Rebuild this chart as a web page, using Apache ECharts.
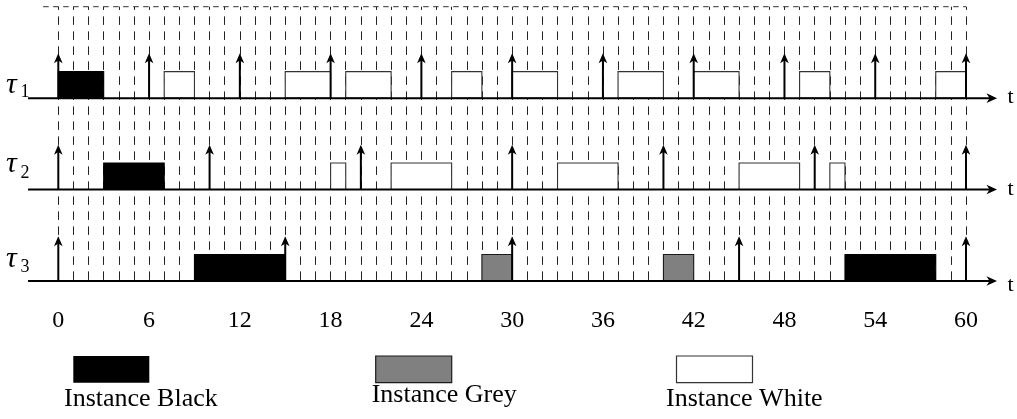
<!DOCTYPE html>
<html><head><meta charset="utf-8">
<script src="https://cdn.jsdelivr.net/npm/echarts@6/dist/echarts.min.js"></script>
<style>html,body{margin:0;padding:0;background:#fff}#c{width:1017px;height:419px}</style>
</head><body><div id="c"></div>
<script>
// ---- data ----
const timeTicks = [0, 6, 12, 18, 24, 30, 36, 42, 48, 54, 60];
const rowNames = ['τ', 'τ', 'τ'];
const rowSubs = ['1', '2', '3'];
const rowLevels = [2, 1, 0];
const tau1Releases = [0, 6, 12, 18, 24, 30, 36, 42, 48, 54, 60];
const tau2Releases = [0, 10, 20, 30, 40, 50, 60];
const tau3Releases = [0, 15, 30, 45, 60];
const tau1Black = [[0, 3]];
const tau1White = [[7, 9], [15, 18], [19, 22], [26, 28], [30, 33], [37, 40], [42, 45], [49, 51], [58, 60]];
const tau2Black = [[3, 7]];
const tau2White = [[18, 19], [22, 26], [33, 37], [45, 49], [51, 52]];
const tau3Black = [[9, 15], [52, 58]];
const tau3Grey = [[28, 30], [40, 42]];
const legendNames = ['Instance Black', 'Instance Grey', 'Instance White'];

// ---- layout / style ----
const SERIF = 'Liberation Serif';
const BOX_H = 0.29, ARROW_H = 0.49, AXIS_START = -2, AXIS_END = 62.05, TOP_LINE = 3;
const FILLS = ['#000000', '#808080', '#ffffff'];
const STROKES = ['#000000', '#1a1a1a', '#333333'];
const tauBaseOff = [-2.5, -15.5, -11.5];   // px: tau glyph baseline relative to axis
const subBaseOff = [0, -10, -8];
const tOff = [-1, 0, 4];

const boxData = [];
function addBoxes(list, level, kind) { list.forEach(b => boxData.push([b[0], b[1], level, kind])); }
addBoxes(tau1Black, rowLevels[0], 0); addBoxes(tau1White, rowLevels[0], 2);
addBoxes(tau2Black, rowLevels[1], 0); addBoxes(tau2White, rowLevels[1], 2);
addBoxes(tau3Black, rowLevels[2], 0); addBoxes(tau3Grey, rowLevels[2], 1);

const arrowData = [];
[tau1Releases, tau2Releases, tau3Releases].forEach((r, i) => r.forEach(t => arrowData.push([t, rowLevels[i]])));
const axisData = rowLevels.map((lv, i) => [lv, i]);

const chart = echarts.init(document.getElementById('c'), null, {renderer: 'canvas'});
chart.setOption({
  animation: false,
  backgroundColor: '#ffffff',
  grid: {left: 58.3, right: 51, top: 6.7, bottom: 138},
  xAxis: [
    {type: 'value', min: 0, max: 60, interval: 6, axisLine: {show: false}, axisTick: {show: false},
     splitLine: {show: false},
     axisLabel: {margin: 28, fontFamily: SERIF, fontSize: 24, color: '#000',
       formatter: v => timeTicks.indexOf(v) >= 0 ? String(v) : ''}},
    {type: 'value', min: 0, max: 60, interval: 1, position: 'top', axisLine: {show: false},
     axisTick: {show: false}, axisLabel: {show: false},
     splitLine: {show: true, lineStyle: {color: '#222', width: 1, type: [8.5, 6.5], dashOffset: 5.3}}}
  ],
  yAxis: {type: 'value', min: 0, max: 3, show: false, splitLine: {show: false}},
  series: [
    { // top dashed line
      type: 'custom', xAxisIndex: 0, data: [[-1, 60, TOP_LINE]], clip: false, z: 2,
      renderItem: (p, api) => {
        const a = api.coord([api.value(0), api.value(2)]), b = api.coord([api.value(1), api.value(2)]);
        return {type: 'line', shape: {x1: a[0], y1: a[1], x2: b[0], y2: b[1]},
                style: {stroke: '#333', lineWidth: 1, lineDash: [5.5, 4.5]}};
      }
    },
    { // boxes
      type: 'custom', xAxisIndex: 0, data: boxData, clip: false, z: 3,
      renderItem: (p, api) => {
        const k = api.value(3);
        const p0 = api.coord([api.value(0), api.value(2) + BOX_H]);
        const p1 = api.coord([api.value(1), api.value(2)]);
        return {type: 'rect', shape: {x: p0[0], y: p0[1], width: p1[0] - p0[0], height: p1[1] - p0[1]},
                style: {fill: FILLS[k], stroke: STROKES[k], lineWidth: 1.1}};
      }
    },
    { // baseline axes with arrow, labels
      type: 'custom', xAxisIndex: 0, data: axisData, clip: false, z: 4,
      renderItem: (p, api) => {
        const lv = api.value(0), i = api.value(1);
        const a = api.coord([AXIS_START, lv]), b = api.coord([AXIS_END, lv]);
        return {type: 'group', children: [
          {type: 'line', shape: {x1: a[0], y1: a[1], x2: b[0] - 5, y2: b[1]}, style: {stroke: '#000', lineWidth: 2}},
          {type: 'polygon', shape: {points: [[b[0], b[1]], [b[0] - 10.5, b[1] - 4.8], [b[0] - 7.5, b[1]], [b[0] - 10.5, b[1] + 4.8]]},
           style: {fill: '#000'}},
          {type: 'text', x: 6, y: a[1] + tauBaseOff[i] - 0.3375 * 30,
           style: {text: rowNames[i], fontFamily: SERIF, fontStyle: 'italic', fontSize: 30, fill: '#000',
                   align: 'left', verticalAlign: 'middle'}},
          {type: 'text', x: 20.5, y: a[1] + subBaseOff[i] - 0.3375 * 18,
           style: {text: rowSubs[i], fontFamily: SERIF, fontSize: 18, fill: '#000', align: 'left', verticalAlign: 'middle'}},
          {type: 'text', x: 1007.5, y: a[1] + tOff[i],
           style: {text: 't', fontFamily: SERIF, fontSize: 22, fill: '#000', align: 'left', verticalAlign: 'middle'}}
        ]};
      }
    },
    { // release arrows
      type: 'custom', xAxisIndex: 0, data: arrowData, clip: false, z: 5,
      renderItem: (p, api) => {
        const t = api.value(0), lv = api.value(1);
        const base = api.coord([t, lv]), tip = api.coord([t, lv + ARROW_H]);
        return {type: 'group', children: [
          {type: 'line', shape: {x1: base[0], y1: base[1], x2: tip[0], y2: tip[1] + 4}, style: {stroke: '#000', lineWidth: 2}},
          {type: 'polygon', shape: {points: [[tip[0], tip[1]], [tip[0] - 4.3, tip[1] + 10], [tip[0], tip[1] + 7.2], [tip[0] + 4.3, tip[1] + 10]]},
           style: {fill: '#000'}}
        ]};
      }
    }
  ],
  graphic: [
    {type: 'rect', shape: {x: 73.3, y: 356, width: 76, height: 26.7}, style: {fill: FILLS[0]}},
    {type: 'text', x: 64, y: 407.5 - 0.3375 * 26, style: {text: legendNames[0], fontFamily: SERIF, fontSize: 26, fill: '#000', verticalAlign: 'middle'}},
    {type: 'rect', shape: {x: 375.7, y: 356, width: 76, height: 26.7}, style: {fill: FILLS[1], stroke: '#1a1a1a', lineWidth: 1.2}},
    {type: 'text', x: 371.7, y: 404 - 0.3375 * 26, style: {text: legendNames[1], fontFamily: SERIF, fontSize: 26, fill: '#000', verticalAlign: 'middle'}},
    {type: 'rect', shape: {x: 676.5, y: 356, width: 76, height: 26.7}, style: {fill: FILLS[2], stroke: '#333', lineWidth: 1.2}},
    {type: 'text', x: 666, y: 407.5 - 0.3375 * 26, style: {text: legendNames[2], fontFamily: SERIF, fontSize: 26, fill: '#000', verticalAlign: 'middle'}}
  ]
});
</script>
</body></html>
